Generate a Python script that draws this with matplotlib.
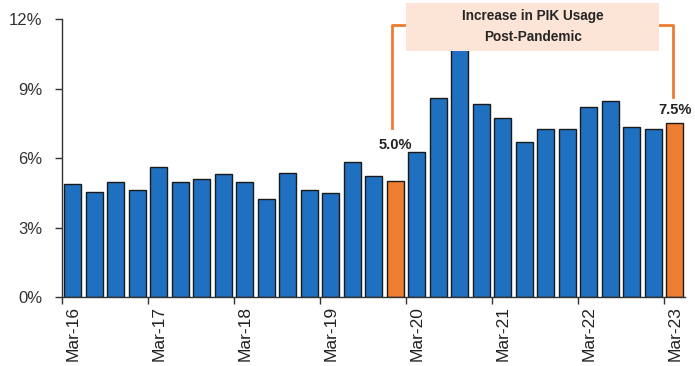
import numpy as np
import matplotlib.pyplot as plt
from matplotlib.patches import Rectangle

# datos trimestrales (% PIK)
trimestres = ["Mar-16", "Jun-16", "Sep-16", "Dec-16",
              "Mar-17", "Jun-17", "Sep-17", "Dec-17",
              "Mar-18", "Jun-18", "Sep-18", "Dec-18",
              "Mar-19", "Jun-19", "Sep-19", "Dec-19",
              "Mar-20", "Jun-20", "Sep-20", "Dec-20",
              "Mar-21", "Jun-21", "Sep-21", "Dec-21",
              "Mar-22", "Jun-22", "Sep-22", "Dec-22",
              "Mar-23"]
pik = [4.90, 4.55, 4.96, 4.62, 5.60, 4.96, 5.09, 5.30, 4.96, 4.22, 5.34, 4.62,
       4.50, 5.82, 5.23, 5.01, 6.26, 8.59, 11.3, 8.33, 7.74, 6.68, 7.27, 7.27,
       8.19, 8.47, 7.34, 7.27, 7.53]
resaltar = [15, 28]   # barras naranjas
etiquetas_resaltar = ["5.0%", "7.5%"]
titulo_caja = "Increase in PIK Usage\nPost-Pandemic"

azul = "#1F70C1"
naranja = "#ED7D31"

plt.rcParams['font.family'] = ['Liberation Sans', 'DejaVu Sans']

fig = plt.figure(figsize=(6.95, 3.66), dpi=100)
ax = fig.add_axes([0.0892, 0.1877, 0.8971, 0.7604])

x = np.arange(len(pik))
colores = [naranja if i in resaltar else azul for i in x]
ax.bar(x, pik, width=0.8, color=colores, edgecolor="#1a1a1a", linewidth=1.0, zorder=2)

ax.set_xlim(-0.5, len(pik) - 0.5)
ax.set_ylim(0, 12)
ax.set_yticks([0, 3, 6, 9, 12])
ax.set_yticklabels(["0%", "3%", "6%", "9%", "12%"], fontsize=12, color="#333333")

# etiquetas cada 4 trimestres, marcas entre categorias
pos_lab = x[::4]
ax.set_xticks(pos_lab)
ax.set_xticklabels([trimestres[i] for i in pos_lab], rotation=90, fontsize=12.5, color="#222222")
ax.tick_params(axis="x", length=0, pad=6)
ax.set_xticks(pos_lab - 0.5, minor=True)
ax.tick_params(axis="x", which="minor", length=5, width=1, color="#333333")
ax.tick_params(axis="y", length=5, width=1, color="#333333", pad=9)

for s in ["top", "right"]:
    ax.spines[s].set_visible(False)
for s in ["left", "bottom"]:
    ax.spines[s].set_color("#333333")
    ax.spines[s].set_linewidth(1)

# etiquetas de las barras naranjas
ax.annotate(etiquetas_resaltar[0], (resaltar[0], pik[resaltar[0]]), xytext=(0, 21),
            textcoords="offset points", ha="center", va="bottom", fontsize=10.5,
            fontweight="bold", color="#222222")
ax.annotate(etiquetas_resaltar[1], (resaltar[1], pik[resaltar[1]]), xytext=(0, 4),
            textcoords="offset points", ha="center", va="bottom", fontsize=10.5,
            fontweight="bold", color="#222222")

# caja y corchete
x0 = resaltar[0] + 0.52
x1 = resaltar[1] - 0.74
ax.add_patch(Rectangle((x0, 10.63), x1 - x0, 2.06, facecolor="#FCE4D6",
                       edgecolor="none", clip_on=False, zorder=4))
ax.text((x0 + x1) / 2, 11.66, titulo_caja, ha="center", va="center", fontsize=9.8,
        fontweight="bold", color="#262626", linespacing=1.62, zorder=5)
y_top = 11.74
ax.plot([resaltar[0] - 0.13, resaltar[0] - 0.13, x0], [7.3, y_top, y_top],
        color=naranja, lw=2, clip_on=False, zorder=3)
ax.plot([x1, resaltar[1] - 0.08, resaltar[1] - 0.08], [y_top, y_top, 8.65],
        color=naranja, lw=2, clip_on=False, zorder=3)

fig.savefig("out.png", dpi=100)
